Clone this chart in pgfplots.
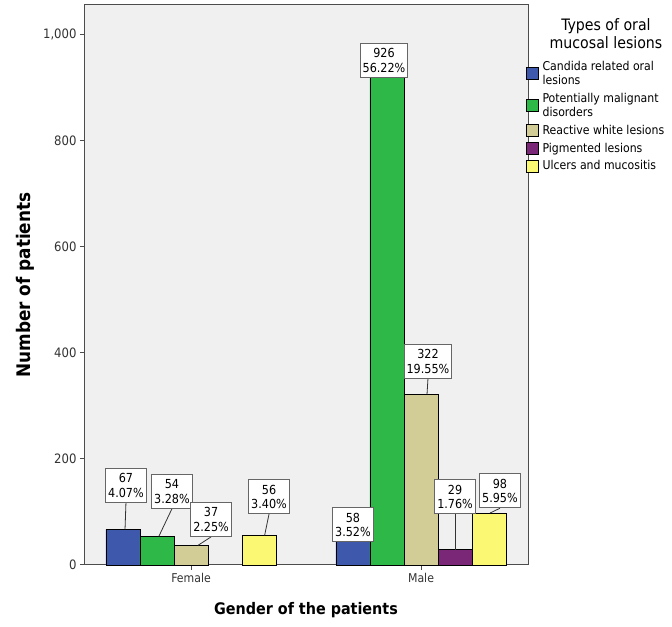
\documentclass[border=0pt]{standalone}
\usepackage{pgfplots}
\pgfplotsset{compat=1.18}
\usepackage{fontspec}
\setmainfont{DejaVu Sans Condensed}
\definecolor{cblue}{RGB}{62,88,172}
\definecolor{cgreen}{RGB}{46,184,72}
\definecolor{cbeige}{RGB}{210,204,150}
\definecolor{cpurple}{RGB}{123,39,119}
\definecolor{cyellow}{RGB}{251,248,115}
\definecolor{bg}{RGB}{240,240,240}
\newcommand{\lab}[5]{%
  \draw[black!80, line width=0.8bp] (axis cs:#1,#2) -- (axis cs:#3,#4);
  \node[draw=black!60, line width=0.9bp, fill=white, align=center, inner xsep=2.5bp, inner ysep=5bp,
        font=\fontsize{12.5}{14.5}\selectfont, anchor=south] at (axis cs:#1,#2) {#5};}
\begin{document}
\begin{tikzpicture}
\useasboundingbox (0,0) rectangle (672bp,627bp);
\begin{axis}[
  at={(85bp,62bp)}, anchor=south west,
  scale only axis, width=443bp, height=560bp,
  xmin=-0.461, xmax=1.465, ymin=0, ymax=1056,
  axis background/.style={fill=bg},
  axis line style={draw=black!70, line width=1bp},
  xtick={0,1}, xticklabels={Female, Male},
  ytick={0,200,400,600,800,1000},
  /pgf/number format/1000 sep={,},
  /pgf/number format/assume math mode=true,
  tick align=outside, major tick length=5bp,
  xtick pos=bottom, ytick pos=left,
  tick style={draw=black!70, line width=1bp},
  xticklabel style={font=\fontsize{12.2}{13}\selectfont, text=black!80},
  yticklabel style={font=\fontsize{13}{14}\selectfont, text=black!80},
  clip=false,
  legend style={at={(rel axis cs:0.995,0.904)}, anchor=north west, draw=none, fill=none,
    font=\fontsize{12.2}{14.5}\selectfont, cells={anchor=west, align=left},
    inner sep=0pt, row sep=3bp, column sep=2bp},
  legend image code/.code={\draw[#1, line width=0.6bp] (0bp,-6bp) rectangle (12bp,6bp);},
]
\addplot[ybar, bar width=0.148, bar shift=-0.296, fill=cblue, draw=black, line width=0.8bp]
  coordinates {(0,67) (1,58)};
\addlegendentry{Candida related oral\\lesions}
\addplot[ybar, bar width=0.148, bar shift=-0.148, fill=cgreen, draw=black, line width=0.8bp]
  coordinates {(0,54) (1,926)};
\addlegendentry{Potentially malignant\\disorders}
\addplot[ybar, bar width=0.148, bar shift=0, fill=cbeige, draw=black, line width=0.8bp]
  coordinates {(0,37) (1,322)};
\addlegendentry{Reactive white lesions}
\addplot[ybar, bar width=0.148, bar shift=0.148, fill=cpurple, draw=black, line width=0.8bp]
  coordinates {(1,29)};
\addlegendentry{Pigmented lesions}
\addplot[ybar, bar width=0.148, bar shift=0.296, fill=cyellow, draw=black, line width=0.8bp]
  coordinates {(0,56) (1,98)};
\addlegendentry{Ulcers and mucositis}

\lab{-0.283}{117}{-0.287}{67}{67\\4.07\%}
\lab{-0.083}{106}{-0.140}{54}{54\\3.28\%}
\lab{0.087}{53}{0.030}{37}{37\\2.25\%}
\lab{0.339}{96}{0.320}{56}{56\\3.40\%}
\lab{0.704}{43}{0.704}{43}{58\\3.52\%}
\lab{0.839}{919}{0.839}{919}{926\\56.22\%}
\lab{1.030}{351}{1.026}{322}{322\\19.55\%}
\lab{1.148}{96}{1.148}{29}{29\\1.76\%}
\lab{1.343}{107}{1.300}{98}{98\\5.95\%}
\end{axis}
\node[font=\bfseries\fontsize{16}{18}\selectfont] at (306bp,17bp) {Gender of the patients};
\node[font=\bfseries\fontsize{18.8}{20}\selectfont, rotate=90] at (25bp,342bp) {Number of patients};
\node[font=\fontsize{15.8}{18}\selectfont, align=center] at (606bp,593bp) {Types of oral\\mucosal lesions};
\end{tikzpicture}
\end{document}
